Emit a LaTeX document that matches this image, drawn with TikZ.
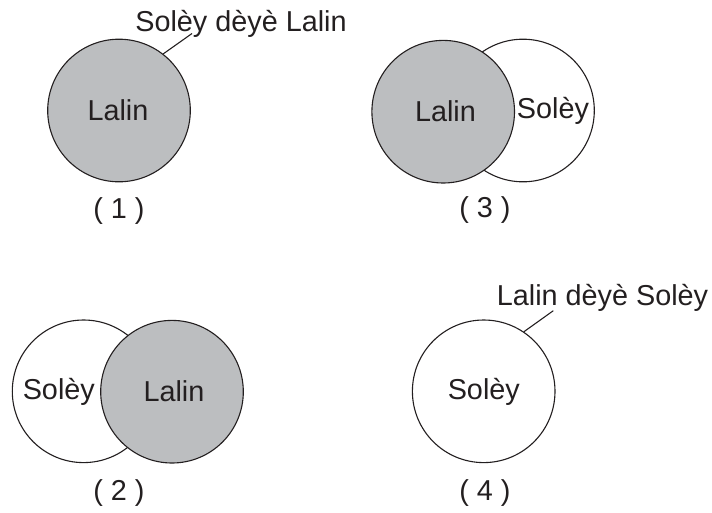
\documentclass[tikz,border=0pt]{standalone}
\usepackage{fontspec}
\setmainfont{Liberation Sans}
\definecolor{moongray}{RGB}{188,190,192}
\definecolor{ink}{RGB}{35,31,32}
\begin{document}
\begin{tikzpicture}[x=1pt,y=-1pt,
  body/.style={circle, draw=ink, line width=1.1pt, minimum size=142.6pt, inner sep=0pt},
  moon/.style={body, fill=moongray},
  sun/.style={body, fill=white},
  txt/.style={text=ink, font=\fontsize{28.8}{32}\selectfont, inner sep=0pt, anchor=base},
  leader/.style={draw=ink, line width=1.1pt}]
\useasboundingbox (0,0) rectangle (712,512);
% Panel 1
\node[moon] (c1) at (119,110.5) {};
\node[txt] (t1) at (118,120) {Lalin};
\node[txt] (l1) at (241,31.7) {Solèy dèyè Lalin};
\coordinate (e1) at (192,33.5);
\draw[leader] (c1.52) -- (e1);
\node[txt] (n1) at (119,218) {( 1 )};
% Panel 3
\node[sun] (s3) at (523,110.5) {};
\node[moon] (m3) at (443.2,111.7) {};
\node[txt] (tm3) at (445.5,121.5) {Lalin};
\node[txt] (ts3) at (553,118.5) {Solèy};
\node[txt] (n3) at (485,217) {( 3 )};
% Panel 2
\node[sun] (s2) at (83.6,391.3) {};
\node[moon] (m2) at (172,391.7) {};
\node[txt] (ts2) at (58.8,399.3) {Solèy};
\node[txt] (tm2) at (174,401.7) {Lalin};
\node[txt] (n2) at (119,500.5) {( 2 )};
% Panel 4
\node[sun] (s4) at (483.7,391.3) {};
\node[txt] (ts4) at (483.8,399.3) {Solèy};
\node[txt] (l4) at (602.5,305) {Lalin dèyè Solèy};
\coordinate (e4) at (553.3,310.7);
\draw[leader] (s4.56) -- (e4);
\node[txt] (n4) at (485,500.5) {( 4 )};
\end{tikzpicture}
\end{document}
